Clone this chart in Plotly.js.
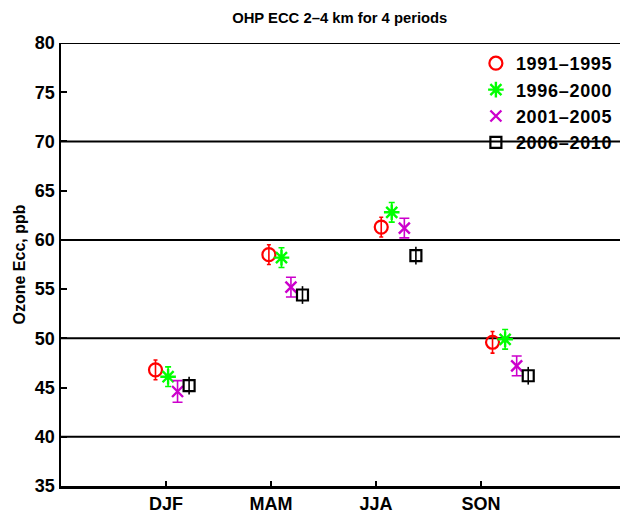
<!DOCTYPE html>
<html>
<head>
<meta charset="utf-8">
<script src="https://cdn.plot.ly/plotly-3.0.1.min.js"></script>
<style>html,body{margin:0;padding:0;background:#fff;}#chart{width:620px;height:514px;}
#chart .legendtext{letter-spacing:0.7px;}</style>
</head>
<body>
<div id="chart"></div>
<script>
// ---- data ----
var seasons = ['DJF', 'MAM', 'JJA', 'SON'];
var seasonPos = [1, 2, 3, 4];
var periods = ['1991\u20131995', '1996\u20132000', '2001\u20132005', '2006\u20132010'];

// x positions of each period's point inside every season group
var x1991 = [0.90, 1.98, 3.05, 4.11];
var x1996 = [1.02, 2.10, 3.15, 4.23];
var x2001 = [1.11, 2.19, 3.27, 4.34];
var x2006 = [1.22, 2.30, 3.38, 4.45];

var o3_1991 = [46.8, 58.5, 61.3, 49.6];
var o3_1996 = [46.1, 58.2, 62.8, 49.9];
var o3_2001 = [44.6, 55.2, 61.2, 47.2];
var o3_2006 = [45.2, 54.4, 58.4, 46.2];

var err_1991 = [1.0, 1.0, 1.0, 1.1];
var err_1996 = [1.0, 1.0, 1.0, 1.0];
var err_2001 = [1.1, 1.0, 1.0, 1.0];
var err_2006 = [0.9, 0.9, 0.9, 0.9];

var gridValues = [40, 50, 60, 70, 80];

// ---- styling ----
var FONT = 'Liberation Sans, Arial, Helvetica, sans-serif';
var styles = [
  {color: '#ff0000', symbol: 'circle-open', size: 13, lw: 2.2, cap: 2},
  {color: '#00ff00', symbol: 'asterisk-open', size: 13, lw: 2.4, cap: 3},
  {color: '#cc00cc', symbol: 'x-thin-open', size: 11, lw: 2.4, cap: 5},
  {color: '#000000', symbol: 'square-open', size: 11, lw: 2.2, cap: 0}
];
var xs = [x1991, x1996, x2001, x2006];
var ys = [o3_1991, o3_1996, o3_2001, o3_2006];
var es = [err_1991, err_1996, err_2001, err_2006];

var traces = periods.map(function (name, i) {
  var s = styles[i];
  return {
    type: 'scatter', mode: 'markers', name: name,
    x: xs[i], y: ys[i],
    error_y: {type: 'data', array: es[i], visible: true, color: s.color, thickness: 1.6, width: s.cap},
    marker: {symbol: s.symbol, size: s.size, color: s.color, line: {color: s.color, width: s.lw}},
    cliponaxis: false
  };
});

var shapes = gridValues.map(function (v) {
  return {type: 'line', xref: 'paper', yref: 'y', x0: 0, x1: 1, y0: v, y1: v,
          line: {color: '#000', width: 2}, layer: 'below'};
});

var layout = {
  width: 620, height: 514,
  margin: {l: 61, r: 0, t: 43, b: 28, pad: 0},
  paper_bgcolor: '#fff', plot_bgcolor: '#fff',
  font: {family: FONT, color: '#000', size: 18, weight: 'bold'},
  title: {text: 'OHP ECC 2\u20134 km for 4 periods', x: 0.548, xanchor: 'center', y: 0.966, yanchor: 'middle',
          font: {family: FONT, size: 14.8, weight: 'bold', color: '#000'}},
  xaxis: {
    range: [0, 5.324], tickvals: seasonPos, ticktext: seasons,
    ticks: 'inside', ticklen: 5, tickwidth: 2, tickcolor: '#000',
    showline: true, linewidth: 2.5, linecolor: '#000',
    showgrid: false, zeroline: false, fixedrange: true,
    tickfont: {family: FONT, size: 18, weight: 'bold', color: '#000'}
  },
  yaxis: {
    range: [35, 80], dtick: 5, tick0: 35,
    ticks: 'inside', ticklen: 6, tickwidth: 2, tickcolor: '#000',
    showline: true, linewidth: 2.5, linecolor: '#000',
    showgrid: false, zeroline: false, fixedrange: true,
    tickfont: {family: FONT, size: 18, weight: 'bold', color: '#000'},
    title: {text: 'Ozone Ecc, ppb', standoff: 6, font: {family: FONT, size: 16, weight: 'bold', color: '#000'}}
  },
  shapes: shapes,
  showlegend: true,
  legend: {x: 0.7422, xanchor: 'left', y: 0.9955, yanchor: 'top', bgcolor: 'rgba(0,0,0,0)', borderwidth: 0,
           font: {family: FONT, size: 18, weight: 'bold', color: '#000'}, tracegroupgap: 0, itemwidth: 30}
};

Plotly.newPlot('chart', traces, layout, {displayModeBar: false, staticPlot: true});
</script>
</body>
</html>
